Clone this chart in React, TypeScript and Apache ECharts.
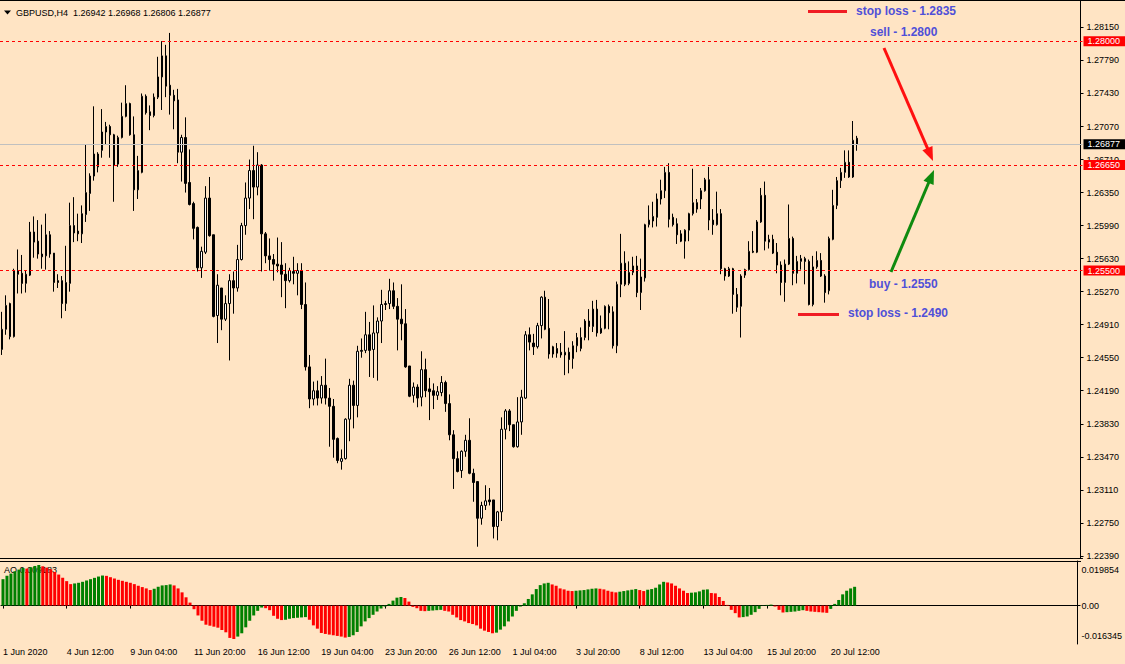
import React, { useEffect, useRef } from "react";
import * as echarts from "echarts";

const FONT = '"Liberation Sans", Arial, sans-serif';
const BG = "#ffe4c4";
const RED = "#ff0000";
const GREEN = "#008000";
const ANN = "#5050d8";

const SYMBOL_TITLE = "GBPUSD,H4";
const titleQuote = ["1.26942", "1.26968", "1.26806", "1.26877"];
const aoLastText = "AO 0.009183";

const opens = [
  1.2464, 1.2486, 1.2514, 1.2478, 1.2550, 1.2547, 1.2536, 1.2545, 1.2592, 1.2582,
  1.2568, 1.2566, 1.2589, 1.2569, 1.2539, 1.2539, 1.2514, 1.2536, 1.2599, 1.2593,
  1.2590, 1.2611, 1.2634, 1.2653, 1.2677, 1.2681, 1.2701, 1.2707, 1.2698, 1.2666,
  1.2695, 1.2718, 1.2732, 1.2698, 1.2638, 1.2657, 1.2740, 1.2723, 1.2719, 1.2739,
  1.2761, 1.2784, 1.2752, 1.2741, 1.2736, 1.2679, 1.2695, 1.2646, 1.2623, 1.2597,
  1.2553, 1.2570, 1.2629, 1.2589, 1.2501, 1.2531, 1.2497, 1.2514, 1.2539, 1.2531,
  1.2562, 1.2599, 1.2629, 1.2659, 1.2641, 1.2665, 1.2590, 1.2566, 1.2562, 1.2557,
  1.2556, 1.2546, 1.2539, 1.2549, 1.2547, 1.2550, 1.2513, 1.2445, 1.2410, 1.2419,
  1.2411, 1.2425, 1.2411, 1.2402, 1.2367, 1.2342, 1.2345, 1.2388, 1.2425, 1.2403,
  1.2463, 1.2463, 1.2480, 1.2464, 1.2482, 1.2495, 1.2514, 1.2514, 1.2528, 1.2511,
  1.2497, 1.2492, 1.2446, 1.2414, 1.2423, 1.2412, 1.2442, 1.2421, 1.2419, 1.2414,
  1.2417, 1.2428, 1.2405, 1.2371, 1.2345, 1.2332, 1.2353, 1.2365, 1.2329, 1.2320,
  1.2280, 1.2294, 1.2300, 1.2300, 1.2271, 1.2287, 1.2377, 1.2397, 1.2382, 1.2358,
  1.2385, 1.2411, 1.2480, 1.2471, 1.2467, 1.2490, 1.2521, 1.2487, 1.2459, 1.2465,
  1.2461, 1.2458, 1.2461, 1.2454, 1.2468, 1.2465, 1.2477, 1.2495, 1.2489, 1.2508,
  1.2482, 1.2487, 1.2511, 1.2505, 1.2468, 1.2535, 1.2558, 1.2536, 1.2548, 1.2555,
  1.2526, 1.2542, 1.2600, 1.2604, 1.2608, 1.2628, 1.2637, 1.2657, 1.2608, 1.2601,
  1.2590, 1.2582, 1.2594, 1.2612, 1.2624, 1.2628, 1.2637, 1.2649, 1.2605, 1.2600,
  1.2612, 1.2552, 1.2544, 1.2552, 1.2524, 1.2511, 1.2545, 1.2551, 1.2571, 1.2570,
  1.2603, 1.2632, 1.2581, 1.2584, 1.2570, 1.2556, 1.2537, 1.2557, 1.2585, 1.2547,
  1.2560, 1.2563, 1.2560, 1.2513, 1.2554, 1.2561, 1.2544, 1.2528, 1.2584, 1.2621,
  1.2648, 1.2657, 1.2668, 1.2652, 1.26942,
];

const highs = [
  1.2505, 1.2523, 1.2515, 1.2552, 1.2573, 1.2567, 1.2550, 1.2603, 1.2609, 1.2605,
  1.2600, 1.2612, 1.2593, 1.2569, 1.2546, 1.2544, 1.2577, 1.2624, 1.2630, 1.2612,
  1.2621, 1.2687, 1.2656, 1.2729, 1.2679, 1.2726, 1.2712, 1.2709, 1.2699, 1.2697,
  1.2733, 1.2752, 1.2733, 1.2718, 1.2675, 1.2743, 1.2742, 1.2730, 1.2743, 1.2783,
  1.2800, 1.2796, 1.2809, 1.2747, 1.2748, 1.2698, 1.2717, 1.2682, 1.2625, 1.2598,
  1.2576, 1.2642, 1.2652, 1.2589, 1.2546, 1.2531, 1.2523, 1.2546, 1.2549, 1.2578,
  1.2602, 1.2646, 1.2671, 1.2686, 1.2679, 1.2666, 1.2592, 1.2585, 1.2568, 1.2586,
  1.2581, 1.2558, 1.2553, 1.2565, 1.2558, 1.2558, 1.2537, 1.2458, 1.2429, 1.2430,
  1.2435, 1.2454, 1.2422, 1.2410, 1.2368, 1.2355, 1.2389, 1.2432, 1.2430, 1.2468,
  1.2476, 1.2505, 1.2494, 1.2512, 1.2499, 1.2529, 1.2517, 1.2541, 1.2537, 1.2520,
  1.2535, 1.2508, 1.2446, 1.2428, 1.2426, 1.2462, 1.2454, 1.2433, 1.2427, 1.2424,
  1.2435, 1.2430, 1.2415, 1.2376, 1.2353, 1.2354, 1.2371, 1.2389, 1.2334, 1.2320,
  1.2298, 1.2316, 1.2313, 1.2300, 1.2288, 1.2390, 1.2399, 1.2399, 1.2382, 1.2412,
  1.2420, 1.2484, 1.2488, 1.2481, 1.2493, 1.2522, 1.2528, 1.2519, 1.2468, 1.2471,
  1.2471, 1.2484, 1.2466, 1.2473, 1.2482, 1.2488, 1.2497, 1.2508, 1.2517, 1.2518,
  1.2501, 1.2512, 1.2513, 1.2511, 1.2538, 1.2590, 1.2571, 1.2560, 1.2565, 1.2566,
  1.2563, 1.2601, 1.2621, 1.2625, 1.2634, 1.2649, 1.2663, 1.2667, 1.2612, 1.2607,
  1.2594, 1.2595, 1.2613, 1.2661, 1.2628, 1.2640, 1.2651, 1.2663, 1.2617, 1.2636,
  1.2617, 1.2553, 1.2554, 1.2553, 1.2531, 1.2546, 1.2552, 1.2582, 1.2593, 1.2605,
  1.2640, 1.2647, 1.2589, 1.2589, 1.2580, 1.2560, 1.2562, 1.2622, 1.2587, 1.2566,
  1.2567, 1.2565, 1.2562, 1.2566, 1.2571, 1.2569, 1.2546, 1.2587, 1.2638, 1.2652,
  1.2662, 1.2681, 1.2681, 1.2713, 1.26968,
];

const lows = [
  1.2458, 1.2480, 1.2475, 1.2477, 1.2525, 1.2525, 1.2526, 1.2544, 1.2564, 1.2563,
  1.2552, 1.2551, 1.2564, 1.2527, 1.2531, 1.2498, 1.2506, 1.2527, 1.2581, 1.2582,
  1.2580, 1.2603, 1.2615, 1.2648, 1.2657, 1.2673, 1.2687, 1.2673, 1.2625, 1.2663,
  1.2694, 1.2717, 1.2697, 1.2615, 1.2628, 1.2656, 1.2720, 1.2703, 1.2717, 1.2737,
  1.2725, 1.2739, 1.2720, 1.2704, 1.2667, 1.2647, 1.2635, 1.2621, 1.2584, 1.2549,
  1.2542, 1.2568, 1.2587, 1.2499, 1.2471, 1.2485, 1.2495, 1.2452, 1.2503, 1.2527,
  1.2561, 1.2589, 1.2617, 1.2606, 1.2632, 1.2549, 1.2558, 1.2550, 1.2539, 1.2548,
  1.2521, 1.2509, 1.2537, 1.2535, 1.2523, 1.2508, 1.2441, 1.2400, 1.2403, 1.2403,
  1.2405, 1.2404, 1.2358, 1.2346, 1.2340, 1.2333, 1.2344, 1.2364, 1.2378, 1.2390,
  1.2455, 1.2460, 1.2434, 1.2433, 1.2430, 1.2471, 1.2507, 1.2508, 1.2508, 1.2463,
  1.2474, 1.2444, 1.2412, 1.2406, 1.2401, 1.2402, 1.2412, 1.2387, 1.2399, 1.2409,
  1.2413, 1.2396, 1.2365, 1.2312, 1.2330, 1.2324, 1.2347, 1.2328, 1.2298, 1.2249,
  1.2273, 1.2289, 1.2294, 1.2258, 1.2256, 1.2277, 1.2366, 1.2375, 1.2357, 1.2357,
  1.2371, 1.2410, 1.2463, 1.2458, 1.2465, 1.2476, 1.2485, 1.2454, 1.2455, 1.2455,
  1.2455, 1.2436, 1.2438, 1.2443, 1.2461, 1.2462, 1.2474, 1.2474, 1.2483, 1.2478,
  1.2481, 1.2486, 1.2486, 1.2465, 1.2460, 1.2521, 1.2533, 1.2534, 1.2545, 1.2521,
  1.2507, 1.2538, 1.2597, 1.2597, 1.2598, 1.2622, 1.2629, 1.2597, 1.2598, 1.2579,
  1.2581, 1.2563, 1.2582, 1.2610, 1.2613, 1.2617, 1.2636, 1.2594, 1.2589, 1.2599,
  1.2546, 1.2539, 1.2543, 1.2503, 1.2505, 1.2477, 1.2542, 1.2550, 1.2569, 1.2569,
  1.2602, 1.2572, 1.2574, 1.2568, 1.2547, 1.2523, 1.2516, 1.2556, 1.2534, 1.2536,
  1.2551, 1.2535, 1.2512, 1.2511, 1.2552, 1.2543, 1.2515, 1.2524, 1.2583, 1.2617,
  1.2640, 1.2651, 1.2651, 1.2651, 1.26806,
];

const closes = [
  1.2486, 1.2512, 1.2478, 1.2550, 1.2546, 1.2536, 1.2546, 1.2592, 1.2581, 1.2568,
  1.2565, 1.2589, 1.2568, 1.2537, 1.2537, 1.2514, 1.2537, 1.2599, 1.2591, 1.2590,
  1.2612, 1.2635, 1.2653, 1.2677, 1.2663, 1.2701, 1.2707, 1.2698, 1.2665, 1.2695,
  1.2718, 1.2732, 1.2698, 1.2638, 1.2659, 1.2740, 1.2722, 1.2719, 1.2739, 1.2761,
  1.2784, 1.2751, 1.2741, 1.2735, 1.2679, 1.2695, 1.2645, 1.2622, 1.2596, 1.2553,
  1.2571, 1.2629, 1.2588, 1.2500, 1.2534, 1.2497, 1.2514, 1.2539, 1.2531, 1.2562,
  1.2599, 1.2629, 1.2659, 1.2641, 1.2665, 1.2590, 1.2566, 1.2562, 1.2557, 1.2555,
  1.2546, 1.2539, 1.2550, 1.2547, 1.2550, 1.2513, 1.2445, 1.2410, 1.2419, 1.2411,
  1.2425, 1.2411, 1.2402, 1.2366, 1.2343, 1.2345, 1.2388, 1.2425, 1.2403, 1.2462,
  1.2462, 1.2480, 1.2463, 1.2482, 1.2495, 1.2513, 1.2513, 1.2528, 1.2511, 1.2497,
  1.2492, 1.2445, 1.2413, 1.2423, 1.2411, 1.2442, 1.2419, 1.2418, 1.2414, 1.2418,
  1.2428, 1.2405, 1.2371, 1.2345, 1.2331, 1.2353, 1.2365, 1.2329, 1.2319, 1.2280,
  1.2294, 1.2299, 1.2298, 1.2271, 1.2287, 1.2377, 1.2397, 1.2382, 1.2358, 1.2385,
  1.2412, 1.2480, 1.2472, 1.2467, 1.2490, 1.2521, 1.2486, 1.2459, 1.2467, 1.2460,
  1.2458, 1.2461, 1.2453, 1.2468, 1.2477, 1.2477, 1.2495, 1.2489, 1.2508, 1.2482,
  1.2487, 1.2511, 1.2504, 1.2468, 1.2535, 1.2558, 1.2535, 1.2548, 1.2555, 1.2526,
  1.2543, 1.2600, 1.2605, 1.2609, 1.2628, 1.2637, 1.2657, 1.2606, 1.2600, 1.2589,
  1.2582, 1.2594, 1.2612, 1.2624, 1.2617, 1.2637, 1.2649, 1.2605, 1.2600, 1.2612,
  1.2552, 1.2544, 1.2552, 1.2524, 1.2510, 1.2544, 1.2551, 1.2571, 1.2570, 1.2603,
  1.2632, 1.2582, 1.2584, 1.2569, 1.2556, 1.2537, 1.2557, 1.2585, 1.2547, 1.2560,
  1.2563, 1.2560, 1.2513, 1.2554, 1.2561, 1.2544, 1.2526, 1.2585, 1.2621, 1.2648,
  1.2657, 1.2668, 1.2652, 1.2692, 1.26877,
];

const aoValues = [
  0.01291, 0.01453, 0.01566, 0.01679, 0.01759, 0.0184, 0.01808, 0.01872, 0.01937, 0.019854,
  0.01921, 0.01856, 0.01776, 0.01646, 0.01517, 0.01356, 0.01195, 0.01049, 0.01082, 0.01114,
  0.01162, 0.01227, 0.01291, 0.01356, 0.0142, 0.01469, 0.01453, 0.01388, 0.01324, 0.01259,
  0.01211, 0.01162, 0.01114, 0.01049, 0.00969, 0.00904, 0.00839, 0.00759, 0.00823, 0.0092,
  0.00985, 0.01001, 0.01033, 0.00985, 0.00839, 0.00646, 0.00404, 0.00145, -0.00178, -0.00484,
  -0.00743, -0.00936, -0.00985, -0.01033, -0.01082, -0.01195, -0.01308, -0.01582, -0.016345, -0.01517,
  -0.01356, -0.01065, -0.00743, -0.00484, -0.00258, -0.00097, -0.00129, -0.00226, -0.005, -0.00646,
  -0.0071, -0.00694, -0.00646, -0.00613, -0.00597, -0.00581, -0.00565, -0.00694, -0.00969, -0.0113,
  -0.0134, -0.01388, -0.0142, -0.01453, -0.01485, -0.01517, -0.01566, -0.01533, -0.01453, -0.01291,
  -0.01017, -0.00775, -0.00613, -0.00452, -0.00291, -0.00145, -0.00048, 0.00081, 0.00242, 0.00387,
  0.0042, 0.00371, 0.00194, -0.00065, -0.00129, -0.00258, -0.00274, -0.00258, -0.00242, -0.00226,
  -0.0021, -0.00258, -0.00291, -0.00452, -0.00581, -0.0071, -0.00775, -0.00856, -0.00904, -0.00969,
  -0.0113, -0.01227, -0.01291, -0.01356, -0.01324, -0.01178, -0.01017, -0.00775, -0.00533, -0.00258,
  -0.00048, 0.00113, 0.00323, 0.00549, 0.00807, 0.01001, 0.01082, 0.01114, 0.01033, 0.00969,
  0.00839, 0.00791, 0.00726, 0.0071, 0.00726, 0.00743, 0.00759, 0.00791, 0.00823, 0.00839,
  0.00823, 0.00791, 0.00726, 0.00678, 0.00646, 0.00678, 0.0071, 0.00743, 0.00775, 0.00807,
  0.00759, 0.0071, 0.00775, 0.00807, 0.00872, 0.01033, 0.01162, 0.0113, 0.01082, 0.00969,
  0.00839, 0.00726, 0.00613, 0.0063, 0.00646, 0.00694, 0.00775, 0.00791, 0.00613, 0.00597,
  0.0042, 0.00226, 0.00032, -0.0021, -0.00371, -0.00581, -0.00565, -0.00533, -0.00452, -0.00323,
  -0.00161, 0.00016, 0.00032, 0.00048, -0.00048, -0.0021, -0.00339, -0.00323, -0.00307, -0.00291,
  -0.00258, -0.00226, -0.00258, -0.00291, -0.00307, -0.00323, -0.00339, -0.00355, -0.00161, 0.00081,
  0.00274, 0.00549, 0.00726, 0.00839, 0.009183,
];

const priceTicks = [
  1.2239, 1.2275, 1.2311, 1.2347, 1.2383, 1.2419, 1.2455, 1.2491, 1.2527,
  1.2563, 1.2599, 1.2635, 1.2671, 1.2707, 1.2743, 1.2779, 1.2815,
];
const levelPrices = [1.28, 1.2665, 1.255];
const bidPrice = 1.26877;
const aoScaleMax = 0.019854;
const aoScaleMin = -0.016345;
const aoTickTexts = ["0.019854", "0.00", "-0.016345"];

const MONTHS = ["Jan", "Feb", "Mar", "Apr", "May", "Jun", "Jul", "Aug", "Sep", "Oct", "Nov", "Dec"];

function buildCategories(count: number, total: number): string[] {
  const out: string[] = [];
  let t = Date.UTC(2020, 5, 1, 20);
  while (out.length < count) {
    const d = new Date(t);
    const wd = d.getUTCDay();
    if (wd !== 0 && wd !== 6) {
      const day = d.getUTCDate();
      const mon = MONTHS[d.getUTCMonth()];
      if (out.length === 0) out.push(`${day} ${mon} ${d.getUTCFullYear()}`);
      else out.push(`${day} ${mon} ${String(d.getUTCHours()).padStart(2, "0")}:00`);
    }
    t += 4 * 3600 * 1000;
  }
  while (out.length < total) out.push("");
  return out;
}

function arrow(x1: number, y1: number, x2: number, y2: number, color: string) {
  const dx = x2 - x1;
  const dy = y2 - y1;
  const len = Math.sqrt(dx * dx + dy * dy);
  const ux = dx / len;
  const uy = dy / len;
  const nx = -uy;
  const ny = ux;
  const hl = 14;
  const hw = 5.5;
  const bx = x2 - ux * hl;
  const by = y2 - uy * hl;
  return [
    {
      type: "line",
      z: 100,
      silent: true,
      shape: { x1, y1, x2: x2 - ux * 10, y2: y2 - uy * 10 },
      style: { stroke: color, lineWidth: 3 },
    },
    {
      type: "polygon",
      z: 100,
      silent: true,
      shape: {
        points: [
          [x2, y2],
          [bx + nx * hw, by + ny * hw],
          [bx - nx * hw, by - ny * hw],
        ],
      },
      style: { fill: color },
    },
  ];
}

function annText(text: string, x: number, y: number) {
  return {
    type: "text",
    z: 100,
    silent: true,
    x,
    y,
    style: {
      text,
      fill: ANN,
      fontSize: 12,
      fontWeight: "bold",
      fontFamily: FONT,
      align: "left",
      verticalAlign: "middle",
      textAlign: "left",
      textVerticalAlign: "middle",
    },
  };
}

export default function App() {
  const ref = useRef<HTMLDivElement>(null);

  useEffect(() => {
    if (!ref.current) return;
    const chart = echarts.init(ref.current, null, { renderer: "svg" });

    const N_CAT = 271;
    const cats = buildCategories(opens.length, N_CAT);
    const lastLabelIdx = 208;
    const showIdx = (i: number) => i % 16 === 0 && i <= lastLabelIdx;

    const aoMin = -0.0188;
    const aoMax = 0.0218;
    const aoPx = (aoMax - aoMin) / 83;
    const aoLabelPos = [aoScaleMax - 5 * aoPx, 0, aoScaleMin + 3 * aoPx];

    const candleData = opens.map((o, i) => [o, closes[i], lows[i], highs[i]]);
    const aoData = aoValues.map((v, i) => ({
      value: v,
      itemStyle: { color: i === 0 || v > aoValues[i - 1] ? GREEN : RED },
    }));

    const levelMarks = levelPrices.map((p) => ({
      yAxis: p,
      lineStyle: { color: RED, type: [3, 3], width: 1 },
      label: {
        show: true,
        position: "end",
        distance: 1,
        formatter: () => p.toFixed(5),
        color: "#ffffff",
        backgroundColor: RED,
        padding: [1, 5, 0, 4],
        fontSize: 9,
        lineHeight: 9,
        fontFamily: FONT,
      },
    }));

    const bidMark = {
      yAxis: bidPrice,
      lineStyle: { color: "#c0c0c0", type: "solid", width: 1 },
      label: {
        show: true,
        position: "end",
        distance: 1,
        formatter: () => bidPrice.toFixed(5),
        color: "#ffffff",
        backgroundColor: "#000000",
        padding: [1, 5, 0, 4],
        fontSize: 9,
        lineHeight: 9,
        fontFamily: FONT,
      },
    };

    const axisFont = { fontSize: 9, fontFamily: FONT, color: "#000" };

    const option: any = {
      animation: false,
      backgroundColor: BG,
      textStyle: { fontFamily: FONT },
      grid: [
        { left: -1.5, top: 1, width: 1084, height: 557 },
        { left: -1.5, top: 561, width: 1084, height: 83 },
      ],
      xAxis: [
        {
          type: "category",
          gridIndex: 0,
          data: cats,
          boundaryGap: true,
          axisLine: { show: true, lineStyle: { color: "#000", width: 1 } },
          axisTick: { show: false },
          axisLabel: { show: false },
          splitLine: { show: false },
        },
        {
          type: "category",
          gridIndex: 1,
          data: cats,
          boundaryGap: true,
          axisLine: { show: true, lineStyle: { color: "#000", width: 1 } },
          axisTick: {
            show: true,
            alignWithLabel: true,
            interval: (i: number) => showIdx(i),
            length: 3,
            lineStyle: { color: "#000" },
          },
          axisLabel: {
            show: true,
            interval: (i: number) => showIdx(i),
            align: "left",
            margin: 3,
            ...axisFont,
          },
          splitLine: { show: false },
        },
      ],
      yAxis: [
        {
          type: "value",
          gridIndex: 0,
          position: "right",
          offset: -2,
          min: 1.22367,
          max: 1.28438,
          axisLine: { show: true, lineStyle: { color: "#000", width: 1 } },
          axisTick: { show: true, length: 3, customValues: priceTicks, lineStyle: { color: "#000" } },
          axisLabel: {
            show: true,
            customValues: priceTicks,
            formatter: (v: number) => v.toFixed(5),
            margin: 6,
            ...axisFont,
          },
          splitLine: { show: false },
        },
        {
          type: "value",
          gridIndex: 1,
          position: "right",
          offset: -2,
          min: aoMin,
          max: aoMax,
          axisLine: { show: true, lineStyle: { color: "#000", width: 1 } },
          axisTick: { show: true, length: 3, customValues: [0], lineStyle: { color: "#000" } },
          axisLabel: {
            show: true,
            customValues: aoLabelPos,
            formatter: (v: number) => (v > 0.001 ? aoTickTexts[0] : v < -0.001 ? aoTickTexts[2] : aoTickTexts[1]),
            margin: 4,
            ...axisFont,
          },
          splitLine: { show: false },
        },
      ],
      series: [
        {
          type: "candlestick",
          xAxisIndex: 0,
          yAxisIndex: 0,
          data: candleData,
          barWidth: 2,
          emphasis: { disabled: true },
          itemStyle: {
            color: "#ffffff",
            color0: "#000000",
            borderColor: "#000000",
            borderColor0: "#000000",
            borderWidth: 1,
          },
          markLine: {
            silent: true,
            symbol: ["none", "none"],
            animation: false,
            precision: 6,
            data: [...levelMarks, bidMark],
          },
        },
        {
          type: "bar",
          xAxisIndex: 1,
          yAxisIndex: 1,
          data: aoData,
          barWidth: 3,
          emphasis: { disabled: true },
        },
      ],
      graphic: {
        elements: [
          { type: "line", silent: true, shape: { x1: 0, y1: 0.5, x2: 1125, y2: 0.5 }, style: { stroke: "#000", lineWidth: 1 } },
          { type: "line", silent: true, shape: { x1: 0, y1: 561.5, x2: 1081, y2: 561.5 }, style: { stroke: "#000", lineWidth: 1 } },
          {
            type: "polygon",
            silent: true,
            shape: { points: [[4, 10.5], [11, 10.5], [7.5, 14.5]] },
            style: { fill: "#000" },
          },
          {
            type: "text",
            silent: true,
            x: 16,
            y: 12.5,
            style: {
              text: `${SYMBOL_TITLE}\u00a0 ${titleQuote.join(" ")}`,
              fill: "#000",
              fontSize: 9,
              fontFamily: FONT,
              align: "left",
              verticalAlign: "middle",
              textAlign: "left",
              textVerticalAlign: "middle",
            },
          },
          {
            type: "text",
            silent: true,
            z: -1,
            x: 4,
            y: 570,
            style: {
              text: aoLastText,
              fill: "#000",
              fontSize: 9,
              fontFamily: FONT,
              align: "left",
              verticalAlign: "middle",
              textAlign: "left",
              textVerticalAlign: "middle",
            },
          },
          {
            type: "line",
            z: 100,
            silent: true,
            shape: { x1: 808, y1: 11.5, x2: 847, y2: 11.5 },
            style: { stroke: "#f01c24", lineWidth: 3 },
          },
          {
            type: "line",
            z: 100,
            silent: true,
            shape: { x1: 798, y1: 314.5, x2: 839, y2: 314.5 },
            style: { stroke: "#f01c24", lineWidth: 3 },
          },
          annText("stop loss - 1.2835", 856, 11),
          annText("sell - 1.2800", 870, 31.5),
          annText("buy - 1.2550", 869, 283.5),
          annText("stop loss - 1.2490", 848, 313),
          ...arrow(884, 48, 933, 161, "#ff1010"),
          ...arrow(891, 272, 934, 170, "#0f8a0f"),
        ],
      },
    };

    chart.setOption(option);
    return () => chart.dispose();
  }, []);

  return (
    <div
      ref={ref}
      style={{ position: "fixed", left: 0, top: 0, width: 1125, height: 664, background: BG }}
    />
  );
}
